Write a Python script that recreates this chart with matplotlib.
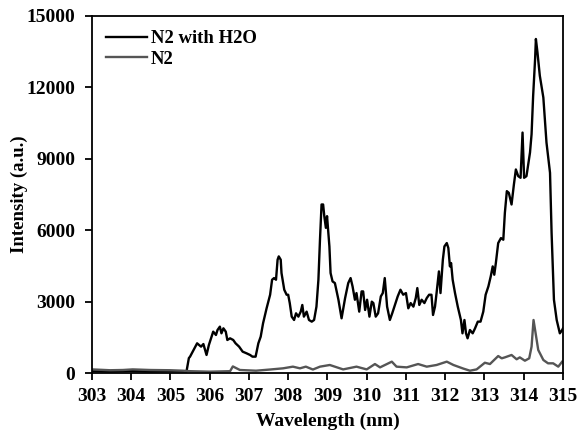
import matplotlib.pyplot as plt

# emission spectrum, N2 with water vapour
wl_h2o = [303.00, 303.46, 303.97, 304.48, 304.99, 305.41, 305.47, 305.50, 305.68, 305.78,
          305.84, 305.92, 305.98, 306.09, 306.16, 306.20, 306.26, 306.30, 306.35, 306.41,
          306.45, 306.52, 306.60, 306.66, 306.75, 306.84, 306.94, 307.03, 307.09, 307.17,
          307.24, 307.30, 307.36, 307.45, 307.54, 307.59, 307.64, 307.69, 307.73, 307.76,
          307.81, 307.83, 307.90, 307.96, 308.00, 308.04, 308.09, 308.15, 308.20, 308.26,
          308.32, 308.36, 308.40, 308.47, 308.53, 308.60, 308.66, 308.72, 308.77, 308.81,
          308.85, 308.89, 308.92, 308.96, 308.99, 309.05, 309.08, 309.13, 309.19, 309.28,
          309.36, 309.45, 309.53, 309.59, 309.64, 309.70, 309.74, 309.81, 309.87, 309.91,
          309.96, 310.01, 310.07, 310.13, 310.17, 310.23, 310.29, 310.36, 310.41, 310.46,
          310.52, 310.59, 310.65, 310.72, 310.79, 310.86, 310.93, 311.00, 311.06, 311.12,
          311.19, 311.25, 311.29, 311.34, 311.40, 311.47, 311.53, 311.59, 311.65, 311.69,
          311.74, 311.78, 311.84, 311.88, 311.94, 311.98, 312.04, 312.08, 312.12, 312.15,
          312.19, 312.25, 312.32, 312.40, 312.44, 312.49, 312.53, 312.57, 312.63, 312.70,
          312.76, 312.83, 312.90, 312.97, 313.03, 313.10, 313.16, 313.21, 313.25, 313.29,
          313.35, 313.42, 313.48, 313.52, 313.57, 313.62, 313.69, 313.75, 313.80, 313.86,
          313.92, 313.97, 314.01, 314.07, 314.16, 314.20, 314.24, 314.29, 314.31, 314.35,
          314.41, 314.50, 314.58, 314.67, 314.71, 314.77, 314.84, 314.92, 314.98, 315.00]
int_h2o = [80, 60, 90, 60, 80, 70, 630, 690, 1250, 1110,
           1220, 760, 1180, 1740, 1600, 1810, 1950, 1670, 1880, 1740,
           1390, 1460, 1390, 1250, 1110, 900, 830, 760, 690, 690,
           1250, 1530, 2090, 2720, 3290, 3920, 3990, 3920, 4760, 4900,
           4760, 4200, 3500, 3290, 3290, 2940, 2370, 2230, 2510, 2370,
           2580, 2860, 2370, 2580, 2230, 2160, 2230, 2790, 3920, 5600,
           7080, 7080, 6590, 6100, 6590, 5320, 4200, 3850, 3780, 3080,
           2300, 3150, 3780, 3990, 3640, 3080, 3360, 2580, 3430, 3430,
           2650, 3080, 2370, 3000, 2940, 2370, 2510, 3220, 3360, 3990,
           2790, 2230, 2510, 2860, 3220, 3500, 3290, 3360, 2720, 2940,
           2790, 3150, 3570, 2860, 3080, 2940, 3150, 3290, 3290, 2440,
           2790, 3360, 4270, 3360, 4760, 5320, 5460, 5250, 4480, 4620,
           3920, 3360, 2790, 2230, 1670, 2230, 1670, 1460, 1810, 1670,
           1880, 2160, 2160, 2580, 3290, 3640, 4060, 4480, 4130, 4620,
           5460, 5670, 5600, 6730, 7640, 7570, 7080, 7920, 8550, 8270,
           8200, 10100, 8200, 8270, 9260, 10030, 11640, 13190, 14030, 13470,
           12490, 11570, 9680, 8410, 5890, 3080, 2230, 1670, 1810, 1880]

# pure N2
wl_n2 = [303.00, 303.46, 303.79, 304.04, 304.48, 304.99, 305.32, 305.50, 306.01, 306.52,
         306.59, 306.77, 307.18, 307.54, 307.87, 308.12, 308.30, 308.45, 308.63, 308.81,
         309.06, 309.40, 309.74, 310.00, 310.21, 310.34, 310.64, 310.76, 311.02, 311.31,
         311.53, 311.78, 312.04, 312.21, 312.46, 312.63, 312.80, 313.01, 313.14, 313.35,
         313.44, 313.52, 313.69, 313.82, 313.90, 314.03, 314.14, 314.20, 314.25, 314.37,
         314.50, 314.62, 314.75, 314.88, 314.98]
int_n2 = [155, 120, 130, 155, 130, 120, 100, 80, 60, 80,
          280, 130, 100, 150, 200, 270, 200, 270, 150, 270,
          340, 155, 270, 155, 380, 240, 480, 270, 240, 380,
          270, 340, 480, 340, 190, 100, 155, 435, 380, 716,
          620, 660, 760, 580, 660, 520, 620, 1110, 2230, 970,
          550, 410, 410, 270, 480]

x_ticks = list(range(303, 316))
y_ticks = [0, 3000, 6000, 9000, 12000, 15000]

plt.rcParams["font.family"] = ["Liberation Serif", "DejaVu Serif"]
plt.rcParams["font.weight"] = "bold"

fig = plt.figure(figsize=(5.78, 4.41), dpi=100)
ax = fig.add_axes([0.159, 0.154, 0.815, 0.810])

ax.plot(wl_h2o, int_h2o, color="black", lw=1.7, label="N2 with H2O")
ax.plot(wl_n2, int_n2, color="#555555", lw=1.7, label="N2")

ax.set_xlim(303, 315)
ax.set_ylim(0, 15000)
ax.set_xticks(x_ticks)
ax.set_yticks(y_ticks)
ax.tick_params(direction="out", length=5, width=1.3, labelsize=14)
ax.tick_params(axis="x", pad=6)
ax.tick_params(axis="y", pad=7)
for s in ax.spines.values():
    s.set_linewidth(1.3)

ax.set_xlabel("Wavelength (nm)", fontsize=14, fontweight="bold", labelpad=5)
ax.set_ylabel("Intensity (a.u.)", fontsize=13.5, fontweight="bold", labelpad=-1)

ax.legend(loc="upper left", frameon=False, handlelength=2.2, handletextpad=0.2,
          labelspacing=0.2, borderaxespad=0.5, borderpad=0.25,
          prop={"weight": "bold", "size": 13.5})

fig.savefig("out.png", dpi=100)
